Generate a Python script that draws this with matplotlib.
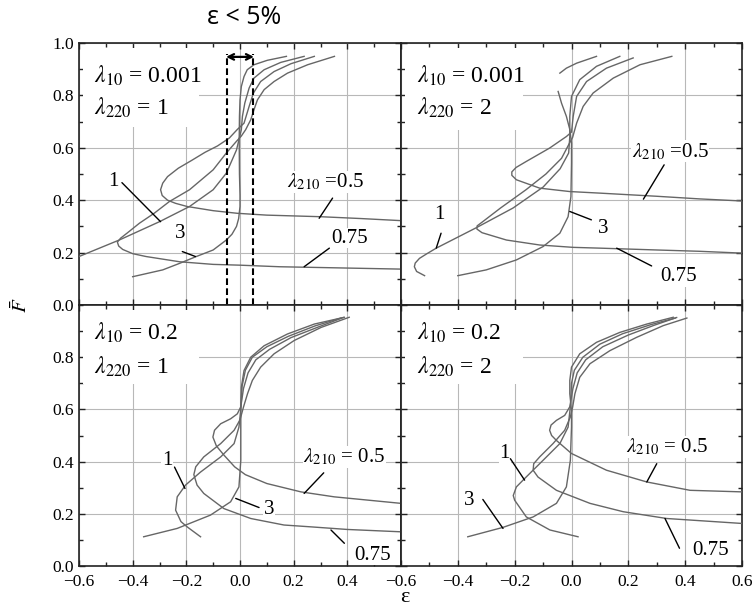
import numpy as np
import matplotlib
matplotlib.use("Agg")
import matplotlib.pyplot as plt
from matplotlib.patches import Rectangle
from matplotlib.ticker import MultipleLocator, FuncFormatter

plt.rcParams['font.family'] = ['Liberation Serif', 'DejaVu Serif']
plt.rcParams['mathtext.fontset'] = 'stix'
plt.rcParams['axes.unicode_minus'] = True

nan = np.nan
x_ticks = [-0.6, -0.4, -0.2, 0.0, 0.2, 0.4, 0.6]
y_ticks = [0.0, 0.2, 0.4, 0.6, 0.8, 1.0]
curve_names = ['0.5', '0.75', '1', '3']

# ---- panel (a): lambda10 = 0.001, lambda220 = 1 ----
a_eps_05 = [0.277, 0.19, 0.127, 0.077, 0.05, 0.034, 0.015, -0.01, -0.04, -0.084, -0.13, -0.18, -0.23, -0.27, -0.288,
            -0.296, -0.29, -0.27, -0.24, -0.197, -0.1, -0.01, 0.1, 0.3, 0.45, 0.6]
a_F_05 = [0.949, 0.921, 0.891, 0.853, 0.809, 0.758, 0.694, 0.67, 0.637, 0.607, 0.583, 0.552, 0.522, 0.49, 0.465,
          0.44, 0.418, 0.4, 0.388, 0.376, 0.36, 0.35, 0.343, 0.337, 0.33, 0.322]
a_eps_075 = [0.352, 0.252, 0.177, 0.127, 0.09, 0.065, 0.052, 0.04, 0.021, 0.005, -0.013, -0.051, -0.1, -0.188, -0.263,
             -0.32, -0.375, -0.42, -0.445, -0.457, -0.452, -0.437, -0.4, -0.35, -0.225, -0.1, 0.0, 0.148, 0.3,
             0.45, 0.6]
a_F_075 = [0.949, 0.917, 0.885, 0.853, 0.822, 0.783, 0.745, 0.707, 0.669, 0.645, 0.625, 0.58, 0.516, 0.44, 0.395,
           0.35, 0.312, 0.275, 0.255, 0.24, 0.225, 0.212, 0.196, 0.185, 0.165, 0.155, 0.152, 0.146, 0.143,
           0.14, 0.137]
a_eps_1 = [0.239, 0.152, 0.09, 0.052, 0.034, 0.018, 0.009, 0.005, -0.013, -0.051, -0.1, -0.188, -0.3, -0.45, -0.6]
a_F_1 = [0.949, 0.926, 0.898, 0.866, 0.828, 0.771, 0.72, 0.669, 0.592, 0.503, 0.44, 0.376, 0.318, 0.248, 0.185]
a_eps_3 = [0.173, 0.102, 0.052, 0.027, 0.015, 0.005, 0.0, -0.002, -0.003, -0.002, 0.0, 0.0, -0.005, -0.013, -0.03,
           -0.051, -0.1, -0.163, -0.225, -0.288, -0.4]
a_F_3 = [0.949, 0.934, 0.917, 0.898, 0.872, 0.834, 0.783, 0.72, 0.63, 0.5, 0.42, 0.376, 0.33, 0.3, 0.27,
         0.248, 0.21, 0.185, 0.159, 0.134, 0.108]

# ---- panel (b): lambda10 = 0.001, lambda220 = 2 ----
b_eps_05 = [0.217, 0.123, 0.053, 0.018, 0.006, 0.0, -0.018, -0.077, -0.159, -0.195, -0.21, -0.21, -0.194, -0.112,
            -0.006, 0.1, 0.3, 0.45, 0.6]
b_F_05 = [0.943, 0.904, 0.853, 0.796, 0.72, 0.66, 0.643, 0.599, 0.548, 0.525, 0.508, 0.495, 0.478, 0.446,
          0.433, 0.427, 0.415, 0.405, 0.397]
b_eps_075 = [0.353, 0.241, 0.147, 0.076, 0.041, 0.018, 0.004, -0.006, -0.035, -0.09, -0.16, -0.25, -0.31, -0.332,
             -0.333, -0.315, -0.229, -0.112, 0.006, 0.1, 0.3, 0.45, 0.6]
b_F_075 = [0.949, 0.917, 0.866, 0.809, 0.758, 0.694, 0.64, 0.62, 0.56, 0.5, 0.44, 0.37, 0.32, 0.302,
           0.29, 0.276, 0.248, 0.229, 0.22, 0.217, 0.21, 0.205, 0.198]
b_eps_1 = [0.17, 0.088, 0.029, 0.0, -0.006, -0.006, -0.01, -0.04, -0.1, -0.206, -0.335, -0.476, -0.51, -0.535,
           -0.55, -0.553, -0.545, -0.517]
b_F_1 = [0.949, 0.911, 0.86, 0.796, 0.72, 0.643, 0.58, 0.52, 0.45, 0.37, 0.295, 0.217, 0.195, 0.178,
         0.16, 0.146, 0.128, 0.112]
b_eps_3 = [0.088, 0.018, -0.018, -0.041, nan, -0.047, -0.035, -0.018, -0.006, 0.0, 0.0, -0.002, -0.012, -0.041,
           -0.1, -0.194, -0.3, -0.4]
b_F_3 = [0.949, 0.923, 0.904, 0.885, nan, 0.815, 0.77, 0.72, 0.67, 0.618, 0.541, 0.414, 0.337, 0.274,
         0.223, 0.172, 0.134, 0.112]

# ---- panel (c): lambda10 = 0.2, lambda220 = 1 ----
c_eps_05 = [0.385, 0.29, 0.19, 0.11, 0.059, 0.03, 0.013, 0.003, -0.01, -0.035, -0.072, -0.095, -0.101, -0.088,
            -0.06, -0.02, 0.02, 0.1, 0.227, 0.351, 0.6]
c_F_05 = [0.952, 0.915, 0.875, 0.83, 0.79, 0.74, 0.68, 0.61, 0.583, 0.564, 0.545, 0.52, 0.494, 0.46,
          0.425, 0.38, 0.35, 0.316, 0.284, 0.265, 0.24]
c_eps_075 = [0.407, 0.302, 0.202, 0.127, 0.077, 0.046, 0.028, 0.013, 0.0, -0.022, -0.072, -0.135, -0.165, -0.172,
             -0.16, -0.135, -0.06, 0.04, 0.164, 0.264, 0.4, 0.6]
c_F_075 = [0.953, 0.914, 0.864, 0.813, 0.762, 0.711, 0.66, 0.609, 0.56, 0.52, 0.469, 0.418, 0.38, 0.35,
           0.31, 0.278, 0.22, 0.182, 0.157, 0.15, 0.14, 0.131]
c_eps_1 = [0.376, 0.28, 0.18, 0.1, 0.046, 0.02, 0.008, 0.003, -0.004, -0.022, -0.072, -0.147, -0.203, -0.234,
           -0.24, -0.22, -0.197, -0.147]
c_F_1 = [0.95, 0.92, 0.88, 0.84, 0.8, 0.75, 0.69, 0.6, 0.532, 0.469, 0.418, 0.36, 0.31, 0.265,
         0.214, 0.17, 0.15, 0.112]
c_eps_3 = [0.389, 0.277, 0.177, 0.09, 0.04, 0.015, 0.005, 0.003, 0.003, 0.003, -0.004, -0.035, -0.11, -0.234, -0.359]
c_F_3 = [0.953, 0.927, 0.889, 0.844, 0.8, 0.749, 0.685, 0.609, 0.5, 0.405, 0.303, 0.246, 0.195, 0.144, 0.112]

# ---- panel (d): lambda10 = 0.2, lambda220 = 2 ----
d_eps_05 = [0.37, 0.29, 0.2, 0.11, 0.05, 0.02, 0.005, -0.006, -0.024, -0.053, -0.072, -0.077, -0.07, -0.053,
            0.0, 0.123, 0.265, 0.417, 0.6]
d_F_05 = [0.952, 0.922, 0.885, 0.84, 0.79, 0.74, 0.68, 0.61, 0.577, 0.558, 0.54, 0.52, 0.5, 0.481,
          0.431, 0.367, 0.322, 0.29, 0.284]
d_eps_075 = [0.406, 0.323, 0.229, 0.135, 0.065, 0.029, 0.012, 0.004, -0.004, -0.024, -0.065, -0.112, -0.133,
             -0.135, -0.118, -0.053, 0.065, 0.182, 0.335, 0.6]
d_F_075 = [0.95, 0.921, 0.876, 0.825, 0.775, 0.723, 0.66, 0.609, 0.571, 0.52, 0.469, 0.418, 0.392,
           0.367, 0.341, 0.29, 0.24, 0.208, 0.182, 0.163]
d_eps_1 = [0.365, 0.28, 0.18, 0.1, 0.04, 0.01, 0.0, -0.003, -0.012, -0.041, -0.1, -0.165, -0.194, -0.205,
           -0.2, -0.159, -0.076, 0.023]
d_F_1 = [0.95, 0.925, 0.89, 0.85, 0.8, 0.75, 0.7, 0.62, 0.532, 0.469, 0.405, 0.335, 0.303, 0.27,
         0.252, 0.188, 0.138, 0.112]
d_eps_3 = [0.358, 0.265, 0.17, 0.088, 0.029, 0.0, -0.006, -0.006, 0.0, 0.0, -0.004, -0.018, -0.053, -0.135,
           -0.241, -0.365]
d_F_3 = [0.953, 0.927, 0.895, 0.857, 0.813, 0.762, 0.711, 0.66, 0.596, 0.532, 0.405, 0.303, 0.24, 0.188,
         0.148, 0.112]

fig = plt.figure(figsize=(7.56, 6.12), dpi=100)

rects = {
    'a': [79 / 756, 1 - 305 / 612, 322 / 756, 262 / 612],
    'b': [401 / 756, 1 - 305 / 612, 341 / 756, 262 / 612],
    'c': [79 / 756, 1 - 566 / 612, 322 / 756, 261 / 612],
    'd': [401 / 756, 1 - 566 / 612, 341 / 756, 261 / 612],
}

panels = {
    'a': dict(curves=[(a_eps_05, a_F_05), (a_eps_075, a_F_075), (a_eps_1, a_F_1), (a_eps_3, a_F_3)],
              l10='0.001', l220='1', box=(-0.154, 0.68)),
    'b': dict(curves=[(b_eps_05, b_F_05), (b_eps_075, b_F_075), (b_eps_1, b_F_1), (b_eps_3, b_F_3)],
              l10='0.001', l220='2', box=(-0.171, 0.669)),
    'c': dict(curves=[(c_eps_05, c_F_05), (c_eps_075, c_F_075), (c_eps_1, c_F_1), (c_eps_3, c_F_3)],
              l10='0.2', l220='1', box=(-0.154, 0.698)),
    'd': dict(curves=[(d_eps_05, d_F_05), (d_eps_075, d_F_075), (d_eps_1, d_F_1), (d_eps_3, d_F_3)],
              l10='0.2', l220='2', box=(-0.171, 0.698)),
}

# annotation: (label, text xy, line start, line end)
annots = {
    'a': [(r'$\lambda_{210}$ =0.5', (0.32, 0.471), (0.345, 0.408), (0.295, 0.331)),
          ('0.75', (0.407, 0.255), (0.333, 0.217), (0.239, 0.146)),
          ('1', (-0.471, 0.471), (-0.44, 0.467), (-0.296, 0.318)),
          ('3', (-0.222, 0.274), (-0.215, 0.204), (-0.166, 0.185))],
    'b': [(r'$\lambda_{210}$ =0.5', (0.347, 0.586), (0.326, 0.535), (0.253, 0.404)),
          ('0.75', (0.376, 0.108), (0.282, 0.149), (0.159, 0.217)),
          ('1', (-0.465, 0.344), (-0.459, 0.274), (-0.476, 0.217)),
          ('3', (0.112, 0.293), (0.07, 0.325), (-0.006, 0.357))],
    'c': [(r'$\lambda_{210}$ = 0.5', (0.389, 0.418), (0.312, 0.357), (0.239, 0.278)),
          ('0.75', (0.495, 0.042), (0.389, 0.087), (0.339, 0.138)),
          ('1', (-0.271, 0.405), (-0.244, 0.379), (-0.205, 0.297)),
          ('3', (0.108, 0.217), (0.071, 0.224), (-0.016, 0.259))],
    'd': [(r'$\lambda_{210}$ = 0.5', (0.335, 0.456), (0.3, 0.392), (0.265, 0.322)),
          ('0.75', (0.488, 0.061), (0.38, 0.068), (0.329, 0.182)),
          ('1', (-0.235, 0.431), (-0.215, 0.411), (-0.165, 0.329)),
          ('3', (-0.359, 0.252), (-0.312, 0.255), (-0.241, 0.144))],
}

fmt = FuncFormatter(lambda v, p: f'{v:.1f}'.replace('-', '\u2212'))

curve_color = '#666666'
axes = {}
for key, rect in rects.items():
    ax = fig.add_axes(rect)
    axes[key] = ax
    ax.set_xlim(-0.6, 0.6)
    ax.set_ylim(0.0, 1.0)
    ax.set_xticks(x_ticks)
    ax.set_yticks(y_ticks)
    ax.xaxis.set_minor_locator(MultipleLocator(0.1))
    ax.yaxis.set_minor_locator(MultipleLocator(0.1))
    ax.tick_params(which='both', direction='in', top=True, right=True, labelsize=12.5, width=1.0, color='#222222')
    ax.tick_params(which='major', length=4.5)
    ax.tick_params(which='minor', length=3)
    ax.tick_params(axis='x', pad=6)
    ax.grid(True, which='major', color='#b8b8b8', lw=0.8)
    ax.set_axisbelow(True)
    for s in ax.spines.values():
        s.set_linewidth(1.2)
        s.set_color('#222222')
    ax.xaxis.set_major_formatter(fmt)
    ax.yaxis.set_major_formatter(fmt)

    p = panels[key]
    bx, by = p['box']
    ax.add_patch(Rectangle((-0.585, by), bx + 0.585, 0.982 - by, facecolor='white', edgecolor='none', zorder=1))
    for eps, F in p['curves']:
        ax.plot(eps, F, color=curve_color, lw=1.0, zorder=3)
    ax.text(-0.545, 0.875 if key in 'ab' else 0.895, r'$\lambda_{10}$ = ' + p['l10'], fontsize=17,
            va='center', ha='left', zorder=5)
    ax.text(-0.545, 0.752 if key in 'ab' else 0.762, r'$\lambda_{220}$ = ' + p['l220'], fontsize=17,
            va='center', ha='left', zorder=5)
    for lab, txy, p0, p1 in annots[key]:
        ax.text(txy[0], txy[1], lab, fontsize=15, ha='center', va='center', zorder=5,
                bbox=dict(facecolor='white', edgecolor='none', pad=0.5))
        ax.annotate('', xy=p1, xytext=p0,
                    arrowprops=dict(arrowstyle='-', color='black', lw=1.0, shrinkA=0, shrinkB=0), zorder=6)

axes['a'].tick_params(labelbottom=False)
axes['b'].tick_params(labelbottom=False, labelleft=False)
axes['d'].tick_params(labelleft=False)
axes['c'].set_yticks([0.0, 0.2, 0.4, 0.6, 0.8])
axes['c'].set_xticks([-0.6, -0.4, -0.2, 0.0, 0.2, 0.4])
axes['c'].yaxis.set_minor_locator(MultipleLocator(0.1))
axes['c'].xaxis.set_minor_locator(MultipleLocator(0.1))

# dashed window and arrow in panel (a)
ax = axes['a']
for xv in (-0.05, 0.05):
    ax.plot([xv, xv], [0.0, 0.958], color='black', lw=1.5, dashes=(3.2, 1.6), zorder=4, clip_on=False)
ax.annotate('', xy=(0.052, 0.947), xytext=(-0.052, 0.947),
            arrowprops=dict(arrowstyle='<->', color='black', lw=1.6, shrinkA=0, shrinkB=0,
                            mutation_scale=10), zorder=6)

fig.text(244 / 756, 1 - 18 / 612, 'ε < 5%', fontsize=18, ha='center', va='center',
         family=['Open Sans', 'DejaVu Sans'])
fig.text(22 / 756, 1 - 305 / 612, r'$\bar{F}$', fontsize=15, rotation=90, ha='center', va='center')
fig.text(405 / 756, 1 - 598 / 612, 'ε', fontsize=16, ha='center', va='center')

fig.savefig('out.png', dpi=100)
